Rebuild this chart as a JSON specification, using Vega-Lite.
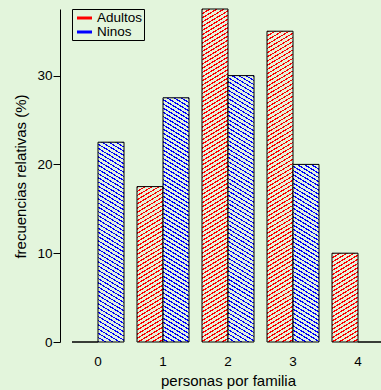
{
"$schema":"https://vega.github.io/schema/vega-lite/v6.json",
"background":"#e3f5dc",
"autosize":{"type":"none"},
"padding":{"left":60,"top":9,"right":0,"bottom":48},
"width":321,
"height":333,
"config":{"font":"Liberation Sans","view":{"stroke":null},"legend":{"rowPadding":-7}},
"params":[{"name":"hs","value":[
{"offset":0,"color":"#0000"},{"offset":0.003,"color":"#0000"},{"offset":0.003,"color":"#e3f5dc"},{"offset":0.01,"color":"#e3f5dc"},
{"offset":0.01,"color":"#0000"},{"offset":0.013,"color":"#0000"},{"offset":0.013,"color":"#e3f5dc"},{"offset":0.02,"color":"#e3f5dc"},
{"offset":0.02,"color":"#0000"},{"offset":0.023,"color":"#0000"},{"offset":0.023,"color":"#e3f5dc"},{"offset":0.03,"color":"#e3f5dc"},
{"offset":0.03,"color":"#0000"},{"offset":0.033,"color":"#0000"},{"offset":0.033,"color":"#e3f5dc"},{"offset":0.04,"color":"#e3f5dc"},
{"offset":0.04,"color":"#0000"},{"offset":0.043,"color":"#0000"},{"offset":0.043,"color":"#e3f5dc"},{"offset":0.05,"color":"#e3f5dc"},
{"offset":0.05,"color":"#0000"},{"offset":0.053,"color":"#0000"},{"offset":0.053,"color":"#e3f5dc"},{"offset":0.06,"color":"#e3f5dc"},
{"offset":0.06,"color":"#0000"},{"offset":0.063,"color":"#0000"},{"offset":0.063,"color":"#e3f5dc"},{"offset":0.07,"color":"#e3f5dc"},
{"offset":0.07,"color":"#0000"},{"offset":0.073,"color":"#0000"},{"offset":0.073,"color":"#e3f5dc"},{"offset":0.08,"color":"#e3f5dc"},
{"offset":0.08,"color":"#0000"},{"offset":0.083,"color":"#0000"},{"offset":0.083,"color":"#e3f5dc"},{"offset":0.09,"color":"#e3f5dc"},
{"offset":0.09,"color":"#0000"},{"offset":0.093,"color":"#0000"},{"offset":0.093,"color":"#e3f5dc"},{"offset":0.1,"color":"#e3f5dc"},
{"offset":0.1,"color":"#0000"},{"offset":0.103,"color":"#0000"},{"offset":0.103,"color":"#e3f5dc"},{"offset":0.11,"color":"#e3f5dc"},
{"offset":0.11,"color":"#0000"},{"offset":0.113,"color":"#0000"},{"offset":0.113,"color":"#e3f5dc"},{"offset":0.12,"color":"#e3f5dc"},
{"offset":0.12,"color":"#0000"},{"offset":0.123,"color":"#0000"},{"offset":0.123,"color":"#e3f5dc"},{"offset":0.13,"color":"#e3f5dc"},
{"offset":0.13,"color":"#0000"},{"offset":0.133,"color":"#0000"},{"offset":0.133,"color":"#e3f5dc"},{"offset":0.14,"color":"#e3f5dc"},
{"offset":0.14,"color":"#0000"},{"offset":0.143,"color":"#0000"},{"offset":0.143,"color":"#e3f5dc"},{"offset":0.15,"color":"#e3f5dc"},
{"offset":0.15,"color":"#0000"},{"offset":0.153,"color":"#0000"},{"offset":0.153,"color":"#e3f5dc"},{"offset":0.16,"color":"#e3f5dc"},
{"offset":0.16,"color":"#0000"},{"offset":0.163,"color":"#0000"},{"offset":0.163,"color":"#e3f5dc"},{"offset":0.17,"color":"#e3f5dc"},
{"offset":0.17,"color":"#0000"},{"offset":0.173,"color":"#0000"},{"offset":0.173,"color":"#e3f5dc"},{"offset":0.18,"color":"#e3f5dc"},
{"offset":0.18,"color":"#0000"},{"offset":0.183,"color":"#0000"},{"offset":0.183,"color":"#e3f5dc"},{"offset":0.19,"color":"#e3f5dc"},
{"offset":0.19,"color":"#0000"},{"offset":0.193,"color":"#0000"},{"offset":0.193,"color":"#e3f5dc"},{"offset":0.2,"color":"#e3f5dc"},
{"offset":0.2,"color":"#0000"},{"offset":0.203,"color":"#0000"},{"offset":0.203,"color":"#e3f5dc"},{"offset":0.21,"color":"#e3f5dc"},
{"offset":0.21,"color":"#0000"},{"offset":0.213,"color":"#0000"},{"offset":0.213,"color":"#e3f5dc"},{"offset":0.22,"color":"#e3f5dc"},
{"offset":0.22,"color":"#0000"},{"offset":0.223,"color":"#0000"},{"offset":0.223,"color":"#e3f5dc"},{"offset":0.23,"color":"#e3f5dc"},
{"offset":0.23,"color":"#0000"},{"offset":0.233,"color":"#0000"},{"offset":0.233,"color":"#e3f5dc"},{"offset":0.24,"color":"#e3f5dc"},
{"offset":0.24,"color":"#0000"},{"offset":0.243,"color":"#0000"},{"offset":0.243,"color":"#e3f5dc"},{"offset":0.25,"color":"#e3f5dc"},
{"offset":0.25,"color":"#0000"},{"offset":0.253,"color":"#0000"},{"offset":0.253,"color":"#e3f5dc"},{"offset":0.26,"color":"#e3f5dc"},
{"offset":0.26,"color":"#0000"},{"offset":0.263,"color":"#0000"},{"offset":0.263,"color":"#e3f5dc"},{"offset":0.27,"color":"#e3f5dc"},
{"offset":0.27,"color":"#0000"},{"offset":0.273,"color":"#0000"},{"offset":0.273,"color":"#e3f5dc"},{"offset":0.28,"color":"#e3f5dc"},
{"offset":0.28,"color":"#0000"},{"offset":0.283,"color":"#0000"},{"offset":0.283,"color":"#e3f5dc"},{"offset":0.29,"color":"#e3f5dc"},
{"offset":0.29,"color":"#0000"},{"offset":0.293,"color":"#0000"},{"offset":0.293,"color":"#e3f5dc"},{"offset":0.3,"color":"#e3f5dc"},
{"offset":0.3,"color":"#0000"},{"offset":0.303,"color":"#0000"},{"offset":0.303,"color":"#e3f5dc"},{"offset":0.31,"color":"#e3f5dc"},
{"offset":0.31,"color":"#0000"},{"offset":0.313,"color":"#0000"},{"offset":0.313,"color":"#e3f5dc"},{"offset":0.32,"color":"#e3f5dc"},
{"offset":0.32,"color":"#0000"},{"offset":0.323,"color":"#0000"},{"offset":0.323,"color":"#e3f5dc"},{"offset":0.33,"color":"#e3f5dc"},
{"offset":0.33,"color":"#0000"},{"offset":0.333,"color":"#0000"},{"offset":0.333,"color":"#e3f5dc"},{"offset":0.34,"color":"#e3f5dc"},
{"offset":0.34,"color":"#0000"},{"offset":0.343,"color":"#0000"},{"offset":0.343,"color":"#e3f5dc"},{"offset":0.35,"color":"#e3f5dc"},
{"offset":0.35,"color":"#0000"},{"offset":0.353,"color":"#0000"},{"offset":0.353,"color":"#e3f5dc"},{"offset":0.36,"color":"#e3f5dc"},
{"offset":0.36,"color":"#0000"},{"offset":0.363,"color":"#0000"},{"offset":0.363,"color":"#e3f5dc"},{"offset":0.37,"color":"#e3f5dc"},
{"offset":0.37,"color":"#0000"},{"offset":0.373,"color":"#0000"},{"offset":0.373,"color":"#e3f5dc"},{"offset":0.38,"color":"#e3f5dc"},
{"offset":0.38,"color":"#0000"},{"offset":0.383,"color":"#0000"},{"offset":0.383,"color":"#e3f5dc"},{"offset":0.39,"color":"#e3f5dc"},
{"offset":0.39,"color":"#0000"},{"offset":0.393,"color":"#0000"},{"offset":0.393,"color":"#e3f5dc"},{"offset":0.4,"color":"#e3f5dc"},
{"offset":0.4,"color":"#0000"},{"offset":0.403,"color":"#0000"},{"offset":0.403,"color":"#e3f5dc"},{"offset":0.41,"color":"#e3f5dc"},
{"offset":0.41,"color":"#0000"},{"offset":0.413,"color":"#0000"},{"offset":0.413,"color":"#e3f5dc"},{"offset":0.42,"color":"#e3f5dc"},
{"offset":0.42,"color":"#0000"},{"offset":0.423,"color":"#0000"},{"offset":0.423,"color":"#e3f5dc"},{"offset":0.43,"color":"#e3f5dc"},
{"offset":0.43,"color":"#0000"},{"offset":0.433,"color":"#0000"},{"offset":0.433,"color":"#e3f5dc"},{"offset":0.44,"color":"#e3f5dc"},
{"offset":0.44,"color":"#0000"},{"offset":0.443,"color":"#0000"},{"offset":0.443,"color":"#e3f5dc"},{"offset":0.45,"color":"#e3f5dc"},
{"offset":0.45,"color":"#0000"},{"offset":0.453,"color":"#0000"},{"offset":0.453,"color":"#e3f5dc"},{"offset":0.46,"color":"#e3f5dc"},
{"offset":0.46,"color":"#0000"},{"offset":0.463,"color":"#0000"},{"offset":0.463,"color":"#e3f5dc"},{"offset":0.47,"color":"#e3f5dc"},
{"offset":0.47,"color":"#0000"},{"offset":0.473,"color":"#0000"},{"offset":0.473,"color":"#e3f5dc"},{"offset":0.48,"color":"#e3f5dc"},
{"offset":0.48,"color":"#0000"},{"offset":0.483,"color":"#0000"},{"offset":0.483,"color":"#e3f5dc"},{"offset":0.49,"color":"#e3f5dc"},
{"offset":0.49,"color":"#0000"},{"offset":0.493,"color":"#0000"},{"offset":0.493,"color":"#e3f5dc"},{"offset":0.5,"color":"#e3f5dc"},
{"offset":0.5,"color":"#0000"},{"offset":0.503,"color":"#0000"},{"offset":0.503,"color":"#e3f5dc"},{"offset":0.51,"color":"#e3f5dc"},
{"offset":0.51,"color":"#0000"},{"offset":0.513,"color":"#0000"},{"offset":0.513,"color":"#e3f5dc"},{"offset":0.52,"color":"#e3f5dc"},
{"offset":0.52,"color":"#0000"},{"offset":0.523,"color":"#0000"},{"offset":0.523,"color":"#e3f5dc"},{"offset":0.53,"color":"#e3f5dc"},
{"offset":0.53,"color":"#0000"},{"offset":0.533,"color":"#0000"},{"offset":0.533,"color":"#e3f5dc"},{"offset":0.54,"color":"#e3f5dc"},
{"offset":0.54,"color":"#0000"},{"offset":0.543,"color":"#0000"},{"offset":0.543,"color":"#e3f5dc"},{"offset":0.55,"color":"#e3f5dc"},
{"offset":0.55,"color":"#0000"},{"offset":0.553,"color":"#0000"},{"offset":0.553,"color":"#e3f5dc"},{"offset":0.56,"color":"#e3f5dc"},
{"offset":0.56,"color":"#0000"},{"offset":0.563,"color":"#0000"},{"offset":0.563,"color":"#e3f5dc"},{"offset":0.57,"color":"#e3f5dc"},
{"offset":0.57,"color":"#0000"},{"offset":0.573,"color":"#0000"},{"offset":0.573,"color":"#e3f5dc"},{"offset":0.58,"color":"#e3f5dc"},
{"offset":0.58,"color":"#0000"},{"offset":0.583,"color":"#0000"},{"offset":0.583,"color":"#e3f5dc"},{"offset":0.59,"color":"#e3f5dc"},
{"offset":0.59,"color":"#0000"},{"offset":0.593,"color":"#0000"},{"offset":0.593,"color":"#e3f5dc"},{"offset":0.6,"color":"#e3f5dc"},
{"offset":0.6,"color":"#0000"},{"offset":0.603,"color":"#0000"},{"offset":0.603,"color":"#e3f5dc"},{"offset":0.61,"color":"#e3f5dc"},
{"offset":0.61,"color":"#0000"},{"offset":0.613,"color":"#0000"},{"offset":0.613,"color":"#e3f5dc"},{"offset":0.62,"color":"#e3f5dc"},
{"offset":0.62,"color":"#0000"},{"offset":0.623,"color":"#0000"},{"offset":0.623,"color":"#e3f5dc"},{"offset":0.63,"color":"#e3f5dc"},
{"offset":0.63,"color":"#0000"},{"offset":0.633,"color":"#0000"},{"offset":0.633,"color":"#e3f5dc"},{"offset":0.64,"color":"#e3f5dc"},
{"offset":0.64,"color":"#0000"},{"offset":0.643,"color":"#0000"},{"offset":0.643,"color":"#e3f5dc"},{"offset":0.65,"color":"#e3f5dc"},
{"offset":0.65,"color":"#0000"},{"offset":0.653,"color":"#0000"},{"offset":0.653,"color":"#e3f5dc"},{"offset":0.66,"color":"#e3f5dc"},
{"offset":0.66,"color":"#0000"},{"offset":0.663,"color":"#0000"},{"offset":0.663,"color":"#e3f5dc"},{"offset":0.67,"color":"#e3f5dc"},
{"offset":0.67,"color":"#0000"},{"offset":0.673,"color":"#0000"},{"offset":0.673,"color":"#e3f5dc"},{"offset":0.68,"color":"#e3f5dc"},
{"offset":0.68,"color":"#0000"},{"offset":0.683,"color":"#0000"},{"offset":0.683,"color":"#e3f5dc"},{"offset":0.69,"color":"#e3f5dc"},
{"offset":0.69,"color":"#0000"},{"offset":0.693,"color":"#0000"},{"offset":0.693,"color":"#e3f5dc"},{"offset":0.7,"color":"#e3f5dc"},
{"offset":0.7,"color":"#0000"},{"offset":0.703,"color":"#0000"},{"offset":0.703,"color":"#e3f5dc"},{"offset":0.71,"color":"#e3f5dc"},
{"offset":0.71,"color":"#0000"},{"offset":0.713,"color":"#0000"},{"offset":0.713,"color":"#e3f5dc"},{"offset":0.72,"color":"#e3f5dc"},
{"offset":0.72,"color":"#0000"},{"offset":0.723,"color":"#0000"},{"offset":0.723,"color":"#e3f5dc"},{"offset":0.73,"color":"#e3f5dc"},
{"offset":0.73,"color":"#0000"},{"offset":0.733,"color":"#0000"},{"offset":0.733,"color":"#e3f5dc"},{"offset":0.74,"color":"#e3f5dc"},
{"offset":0.74,"color":"#0000"},{"offset":0.743,"color":"#0000"},{"offset":0.743,"color":"#e3f5dc"},{"offset":0.75,"color":"#e3f5dc"},
{"offset":0.75,"color":"#0000"},{"offset":0.753,"color":"#0000"},{"offset":0.753,"color":"#e3f5dc"},{"offset":0.76,"color":"#e3f5dc"},
{"offset":0.76,"color":"#0000"},{"offset":0.763,"color":"#0000"},{"offset":0.763,"color":"#e3f5dc"},{"offset":0.77,"color":"#e3f5dc"},
{"offset":0.77,"color":"#0000"},{"offset":0.773,"color":"#0000"},{"offset":0.773,"color":"#e3f5dc"},{"offset":0.78,"color":"#e3f5dc"},
{"offset":0.78,"color":"#0000"},{"offset":0.783,"color":"#0000"},{"offset":0.783,"color":"#e3f5dc"},{"offset":0.79,"color":"#e3f5dc"},
{"offset":0.79,"color":"#0000"},{"offset":0.793,"color":"#0000"},{"offset":0.793,"color":"#e3f5dc"},{"offset":0.8,"color":"#e3f5dc"},
{"offset":0.8,"color":"#0000"},{"offset":0.803,"color":"#0000"},{"offset":0.803,"color":"#e3f5dc"},{"offset":0.81,"color":"#e3f5dc"},
{"offset":0.81,"color":"#0000"},{"offset":0.813,"color":"#0000"},{"offset":0.813,"color":"#e3f5dc"},{"offset":0.82,"color":"#e3f5dc"},
{"offset":0.82,"color":"#0000"},{"offset":0.823,"color":"#0000"},{"offset":0.823,"color":"#e3f5dc"},{"offset":0.83,"color":"#e3f5dc"},
{"offset":0.83,"color":"#0000"},{"offset":0.833,"color":"#0000"},{"offset":0.833,"color":"#e3f5dc"},{"offset":0.84,"color":"#e3f5dc"},
{"offset":0.84,"color":"#0000"},{"offset":0.843,"color":"#0000"},{"offset":0.843,"color":"#e3f5dc"},{"offset":0.85,"color":"#e3f5dc"},
{"offset":0.85,"color":"#0000"},{"offset":0.853,"color":"#0000"},{"offset":0.853,"color":"#e3f5dc"},{"offset":0.86,"color":"#e3f5dc"},
{"offset":0.86,"color":"#0000"},{"offset":0.863,"color":"#0000"},{"offset":0.863,"color":"#e3f5dc"},{"offset":0.87,"color":"#e3f5dc"},
{"offset":0.87,"color":"#0000"},{"offset":0.873,"color":"#0000"},{"offset":0.873,"color":"#e3f5dc"},{"offset":0.88,"color":"#e3f5dc"},
{"offset":0.88,"color":"#0000"},{"offset":0.883,"color":"#0000"},{"offset":0.883,"color":"#e3f5dc"},{"offset":0.89,"color":"#e3f5dc"},
{"offset":0.89,"color":"#0000"},{"offset":0.893,"color":"#0000"},{"offset":0.893,"color":"#e3f5dc"},{"offset":0.9,"color":"#e3f5dc"},
{"offset":0.9,"color":"#0000"},{"offset":0.903,"color":"#0000"},{"offset":0.903,"color":"#e3f5dc"},{"offset":0.91,"color":"#e3f5dc"},
{"offset":0.91,"color":"#0000"},{"offset":0.913,"color":"#0000"},{"offset":0.913,"color":"#e3f5dc"},{"offset":0.92,"color":"#e3f5dc"},
{"offset":0.92,"color":"#0000"},{"offset":0.923,"color":"#0000"},{"offset":0.923,"color":"#e3f5dc"},{"offset":0.93,"color":"#e3f5dc"},
{"offset":0.93,"color":"#0000"},{"offset":0.933,"color":"#0000"},{"offset":0.933,"color":"#e3f5dc"},{"offset":0.94,"color":"#e3f5dc"},
{"offset":0.94,"color":"#0000"},{"offset":0.943,"color":"#0000"},{"offset":0.943,"color":"#e3f5dc"},{"offset":0.95,"color":"#e3f5dc"},
{"offset":0.95,"color":"#0000"},{"offset":0.953,"color":"#0000"},{"offset":0.953,"color":"#e3f5dc"},{"offset":0.96,"color":"#e3f5dc"},
{"offset":0.96,"color":"#0000"},{"offset":0.963,"color":"#0000"},{"offset":0.963,"color":"#e3f5dc"},{"offset":0.97,"color":"#e3f5dc"},
{"offset":0.97,"color":"#0000"},{"offset":0.973,"color":"#0000"},{"offset":0.973,"color":"#e3f5dc"},{"offset":0.98,"color":"#e3f5dc"},
{"offset":0.98,"color":"#0000"},{"offset":0.983,"color":"#0000"},{"offset":0.983,"color":"#e3f5dc"},{"offset":0.99,"color":"#e3f5dc"},
{"offset":0.99,"color":"#0000"},{"offset":0.993,"color":"#0000"},{"offset":0.993,"color":"#e3f5dc"},{"offset":1,"color":"#e3f5dc"}
]}],
"data":{"values":[
{"p":"0","grupo":"Adultos","valor":0},
{"p":"0","grupo":"Ninos","valor":22.5},
{"p":"1","grupo":"Adultos","valor":17.5},
{"p":"1","grupo":"Ninos","valor":27.5},
{"p":"2","grupo":"Adultos","valor":37.5},
{"p":"2","grupo":"Ninos","valor":30},
{"p":"3","grupo":"Adultos","valor":35},
{"p":"3","grupo":"Ninos","valor":20},
{"p":"4","grupo":"Adultos","valor":10},
{"p":"4","grupo":"Ninos","valor":0}
]},
"encoding":{
"x":{"field":"p","type":"nominal","scale":{"range":[12,324],"paddingInner":0.2,"paddingOuter":0},
"axis":{"title":"personas por familia","labelAngle":0,"domain":false,"ticks":false,"tickSize":0,"labelPadding":12,"labelFontSize":13.5,"labelColor":"black","titleColor":"black","titleFontSize":15,"titleFontWeight":"normal","titleX":168,"titleY":43.5,"titleAlign":"center","titleBaseline":"alphabetic"}},
"xOffset":{"field":"grupo","type":"nominal","sort":["Adultos","Ninos"]},
"y":{"field":"valor","type":"quantitative","scale":{"domain":[0,37.5],"nice":false},
"axis":{"title":"frecuencias relativas (%)","values":[0,10,20,30],"grid":false,"tickSize":7,"labelPadding":1,"labelFontSize":13.5,"labelColor":"black","domainColor":"black","tickColor":"black","titleColor":"black","titleFontSize":15,"titleFontWeight":"normal","titleX":-35,"titleY":167,"titleAngle":-90,"titleAlign":"center","titleBaseline":"alphabetic"}}
},
"layer":[
{"mark":{"type":"bar","strokeWidth":0},
"encoding":{"color":{"field":"grupo","type":"nominal","scale":{"domain":["Adultos","Ninos"],"range":["#ff0000","#0000ff"]},
"legend":{"title":null,"orient":"none","legendX":12,"legendY":0,"strokeColor":"black","padding":1.5,"symbolType":"M-1,-0.2L1,-0.2L1,0.2L-1,0.2Z","symbolSize":225,"symbolOffset":3.5,"symbolStrokeWidth":0,"labelFontSize":13.5,"labelColor":"black","labelOffset":5,"rowPadding":-7}}}},
{"mark":{"type":"bar","stroke":"black","strokeWidth":1,
"fill":{"expr":"{gradient:'linear',x1:datum.grupo=='Adultos'?0:1,y1:0,x2:datum.grupo=='Adultos'?6552/(243.36+pow(8.88*datum.valor,2)):1-6552/(243.36+pow(8.88*datum.valor,2)),y2:3729.6*datum.valor/(243.36+pow(8.88*datum.valor,2)),stops:hs}"}}}
]
}
